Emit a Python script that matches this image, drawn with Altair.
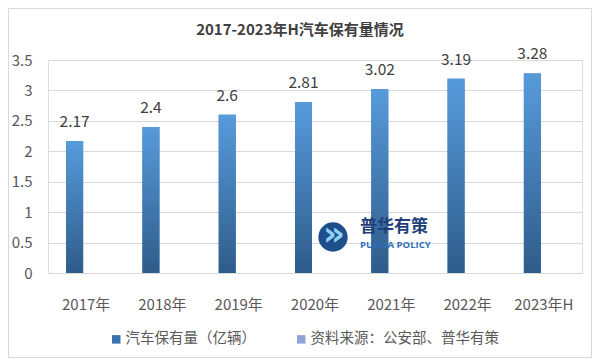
import altair as alt
import pandas as pd

years = ["2017年", "2018年", "2019年", "2020年", "2021年", "2022年", "2023年H"]
values = [2.17, 2.4, 2.6, 2.81, 3.02, 3.19, 3.28]
series = ["汽车保有量（亿辆）", "资料来源：公安部、普华有策"]
y_ticks = [0, 0.5, 1, 1.5, 2, 2.5, 3, 3.5]
title_text = "2017-2023年H汽车保有量情况"

rows = []
for yr, v in zip(years, values):
    rows.append({"year": yr, "series": series[0], "value": v, "label": f"{v:g}"})
    rows.append({"year": yr, "series": series[1], "value": 0, "label": ""})
df = pd.DataFrame(rows)

FONT = "Noto Sans CJK SC"
GRID = "#D9D9D9"
TXT = "#595959"

x_enc = alt.X("year:N", sort=years,
              scale=alt.Scale(paddingInner=0.397, paddingOuter=0.1985),
              axis=alt.Axis(title=None, labelAngle=0, ticks=False, domainColor=GRID,
                            labelFontSize=15, labelColor=TXT, labelPadding=24,
                            labelFont=FONT, grid=False))
xo_enc = alt.XOffset("series:N", sort=series,
                     scale=alt.Scale(paddingInner=0.261, paddingOuter=0.1304))
y_enc = alt.Y("value:Q", scale=alt.Scale(domain=[0, 3.5], nice=False),
              axis=alt.Axis(title=None, values=y_ticks, domain=False, ticks=False,
                            grid=True, gridColor=GRID, labelPadding=16, labelFontSize=15,
                            labelColor=TXT, labelFont=FONT, format="~g",
                            labelOverlap=False))

base = alt.Chart(df)

bars = base.mark_bar().encode(
    x=x_enc, xOffset=xo_enc, y=y_enc,
    color=alt.Color("series:N", sort=series,
                    scale=alt.Scale(domain=series, range=["#3A72AD", "#8FA7D6"]),
                    legend=alt.Legend(title=None, orient="none", legendX=61, legendY=272,
                                      direction="horizontal", symbolType="square",
                                      symbolSize=72, symbolStrokeWidth=0,
                                      labelFontSize=14.5, labelColor=TXT, labelFont=FONT,
                                      columnPadding=38, labelOffset=2, labelLimit=300)),
)

gradient = {
    "gradient": "linear", "x1": 0, "y1": 0, "x2": 0, "y2": 1,
    "stops": [{"offset": 0, "color": "#579BDB"}, {"offset": 1, "color": "#2E5C8A"}],
}
grad_bars = base.transform_filter(alt.datum.series == series[0]).mark_bar(fill=gradient).encode(
    x=x_enc, xOffset=xo_enc, y=y_enc
)

labels = base.transform_filter(alt.datum.series == series[0]).mark_text(
    dy=-14, baseline="alphabetic", fontSize=15.5, color="#404040", font=FONT
).encode(
    x=x_enc, xOffset=xo_enc, y=y_enc, text="label:N"
)

deco = pd.DataFrame({"k": [0]})
border = alt.Chart(deco).mark_rect(fill="transparent", stroke=GRID, strokeWidth=1).encode(
    x=alt.value(-39.5), x2=alt.value(543.5), y=alt.value(-51.5), y2=alt.value(297.5)
)
title = alt.Chart(deco).mark_text(text=title_text, fontSize=15, fontWeight="bold",
                                  color="#404040", font=FONT, align="center",
                                  baseline="middle").encode(
    x=alt.value(252), y=alt.value(-30)
)
logo_circle = alt.Chart(deco).mark_point(filled=True, shape="circle", size=860,
                                         color="#1F4E8C", opacity=1).encode(
    x=alt.value(285), y=alt.value(177)
)
logo_chev = alt.Chart(deco).mark_text(text="»", fontSize=34, fontWeight="bold",
                                      color="#8FD0F5", font="DejaVu Sans").encode(
    x=alt.value(286), y=alt.value(175)
)
logo_cn = alt.Chart(deco).mark_text(text="普华有策", fontSize=17, fontWeight="bold",
                                    color="#1F3F78", align="left", baseline="middle",
                                    font=FONT).encode(
    x=alt.value(312), y=alt.value(167)
)
logo_en = alt.Chart(deco).mark_text(text="PUHUA POLICY", fontSize=9.5, fontWeight="bold",
                                    color="#2E6FB8", align="left", baseline="middle",
                                    font="Open Sans").encode(
    x=alt.value(312), y=alt.value(185)
)

chart = alt.layer(
    border, title, bars, grad_bars, labels, logo_circle, logo_chev, logo_cn, logo_en
).properties(
    width=534, height=213,
    autosize=alt.AutoSizeParams(type="none"),
    padding={"left": 40, "top": 52, "right": 10, "bottom": 85},
).configure_view(stroke=None).configure(background="white")

chart.save("out.html", embed_options={"renderer": "svg", "actions": False})
